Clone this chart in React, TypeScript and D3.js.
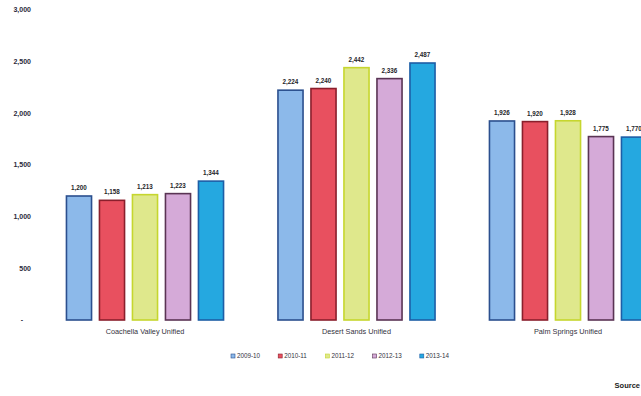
import React from "react";
import * as d3 from "d3";

const categories = ["Coachella Valley Unified", "Desert Sands Unified", "Palm Springs Unified"];
const seriesNames = ["2009-10", "2010-11", "2011-12", "2012-13", "2013-14"];
const s200910 = [1200, 2224, 1926];
const s201011 = [1158, 2240, 1920];
const s201112 = [1213, 2442, 1928];
const s201213 = [1223, 2336, 1775];
const s201314 = [1344, 2487, 1770];
const seriesValues = [s200910, s201011, s201112, s201213, s201314];
const yTicks = [0, 500, 1000, 1500, 2000, 2500, 3000];
const sourceLabel = "Source";

const fills = ["#8cb9ea", "#e8505f", "#dfe88c", "#d5aad8", "#25a8e0"];
const strokes = ["#2b4f8e", "#8a1f2c", "#c6d62e", "#5a3454", "#1d5ea6"];

const W = 641;
const H = 396;

export default function App() {
  const y = d3.scaleLinear().domain([0, 3000]).range([320, 10]);
  const x0 = d3.scaleBand<string>().domain(categories).range([39.25, 39.25 + 3 * 211.5]).padding(0);
  const x1 = d3
    .scaleBand<string>()
    .domain(seriesNames)
    .range([-82.5, 82.5])
    .paddingInner(0.24)
    .paddingOuter(0.12);
  const fmt = d3.format(",");
  const font = "'Liberation Sans', Arial, sans-serif";

  return (
    <svg
      width={W}
      height={H}
      viewBox={`0 0 ${W} ${H}`}
      style={{ position: "absolute", left: 0, top: 0, background: "#ffffff" }}
      fontFamily={font}
    >
      <rect x={0} y={0} width={W} height={H} fill="#ffffff" />
      {yTicks.map((t) => (
        <text
          key={t}
          x={t === 0 ? 22 : 31}
          y={y(t)}
          dy="0.35em"
          textAnchor={t === 0 ? "middle" : "end"}
          fontSize={7}
          fontWeight="bold"
          fill="#2a2a3a"
        >
          {t === 0 ? "-" : fmt(t)}
        </text>
      ))}
      {categories.map((c, ci) => {
        const cx = (x0(c) as number) + x0.bandwidth() / 2;
        return (
          <g key={c}>
            {seriesNames.map((s, si) => {
              const v = seriesValues[si][ci];
              const bx = cx + (x1(s) as number);
              const bw = x1.bandwidth();
              return (
                <g key={s}>
                  <rect
                    x={bx}
                    y={y(v)}
                    width={bw}
                    height={y(0) - y(v)}
                    fill={fills[si]}
                    stroke={strokes[si]}
                    strokeWidth={1.6}
                  />
                  <text
                    x={bx + bw / 2}
                    y={y(v) - 6}
                    textAnchor="middle"
                    fontSize={6.3}
                    fontWeight="bold"
                    fill="#1e1e2a"
                  >
                    {fmt(v)}
                  </text>
                </g>
              );
            })}
            <text x={cx} y={334} textAnchor="middle" fontSize={7.3} fill="#333340">
              {c}
            </text>
          </g>
        );
      })}
      {seriesNames.map((s, si) => {
        const lx = 231 + si * 47.2;
        return (
          <g key={s}>
            <rect x={lx} y={354} width={4} height={4} fill={fills[si]} stroke={strokes[si]} strokeWidth={0.6} />
            <text x={lx + 6} y={356} dy="0.35em" fontSize={6.3} fill="#333340">
              {s}
            </text>
          </g>
        );
      })}
      <text x={640} y={385} dy="0.35em" textAnchor="end" fontSize={7.5} fontWeight="bold" fill="#222">
        {sourceLabel}
      </text>
    </svg>
  );
}
